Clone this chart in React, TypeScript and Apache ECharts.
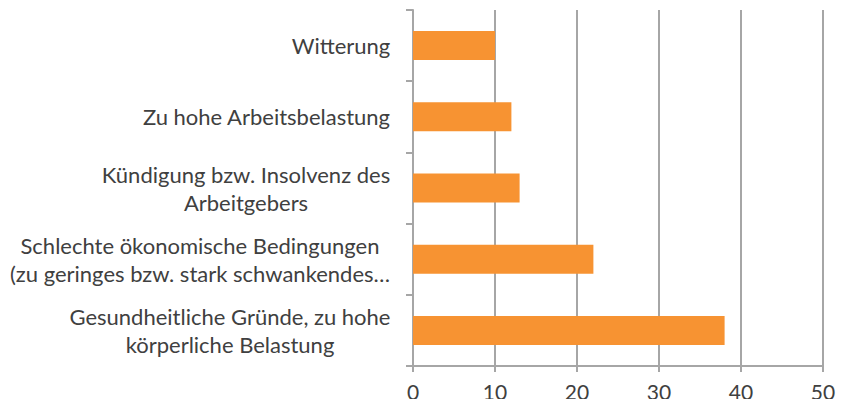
import React, { useEffect, useRef } from "react";
import * as echarts from "echarts";

const categories: string[] = [
  "Witterung",
  "Zu hohe Arbeitsbelastung",
  "Kündigung bzw. Insolvenz des\nArbeitgebers",
  "Schlechte ökonomische Bedingungen\n(zu geringes bzw. stark schwankendes…",
  "Gesundheitliche Gründe, zu hohe\nkörperliche Belastung",
];
const values: number[] = [10, 12, 13, 22, 38];
const xTicks = { min: 0, max: 50, interval: 10 };

const FONT_FAMILY = "Lato";
const FONT_SIZE = 22;
const TEXT_COLOR = "#404040";
const GRID_COLOR = "#a6a6a6";
const BAR_COLOR = "#f79332";

function measure(text: string): number {
  const c = document.createElement("canvas").getContext("2d");
  if (!c) return text.length * FONT_SIZE * 0.5;
  c.font = `${FONT_SIZE}px ${FONT_FAMILY}`;
  return c.measureText(text).width;
}

export default function App() {
  const ref = useRef<HTMLDivElement>(null);
  useEffect(() => {
    if (!ref.current) return;
    const chart = echarts.init(ref.current, null, { renderer: "svg" });
    const rich: Record<string, any> = {};
    categories.forEach((c, i) => {
      const lines = c.split("\n");
      const w = Math.max(...lines.map(measure));
      rich["l" + i] = {
        width: Math.ceil(w) + 1,
        align: "center",
        fontFamily: FONT_FAMILY,
        fontSize: FONT_SIZE,
        color: TEXT_COLOR,
        lineHeight: 28,
      };
    });
    chart.setOption({
      animation: false,
      grid: { left: 413, right: 29, top: 10, bottom: 41, containLabel: false },
      xAxis: {
        type: "value",
        min: xTicks.min,
        max: xTicks.max,
        interval: xTicks.interval,
        axisLine: { show: true, lineStyle: { color: GRID_COLOR, width: 2 } },
        axisTick: { show: true, length: 6, lineStyle: { color: GRID_COLOR, width: 2 } },
        splitLine: { show: true, lineStyle: { color: GRID_COLOR, width: 2 } },
        axisLabel: {
          color: TEXT_COLOR,
          fontFamily: FONT_FAMILY,
          fontSize: 21,
          margin: 15,
        },
      },
      yAxis: {
        type: "category",
        inverse: true,
        data: categories,
        axisLine: { show: true, lineStyle: { color: GRID_COLOR, width: 2 } },
        axisTick: { show: true, length: 7, lineStyle: { color: GRID_COLOR, width: 2 } },
        axisLabel: {
          margin: 22,
          formatter: (v: string) => {
            const i = categories.indexOf(v);
            return v
              .split("\n")
              .map((l) => `{l${i}|${l}}`)
              .join("\n");
          },
          rich,
        },
      },
      series: [
        {
          type: "bar",
          data: values,
          barWidth: 29,
          itemStyle: { color: BAR_COLOR },
        },
      ],
    });
    return () => chart.dispose();
  }, []);
  return <div ref={ref} style={{ width: 852, height: 407, margin: -8 }} />;
}
